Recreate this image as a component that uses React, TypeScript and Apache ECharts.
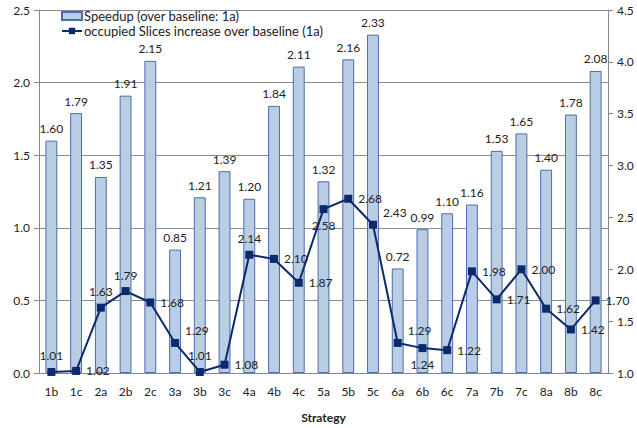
import React, { useEffect, useRef } from "react";
import * as echarts from "echarts";

const categories = ["1b","1c","2a","2b","2c","3a","3b","3c","4a","4b","4c","5a","5b","5c","6a","6b","6c","7a","7b","7c","8a","8b","8c"];
const speedup = [1.60,1.79,1.35,1.91,2.15,0.85,1.21,1.39,1.20,1.84,2.11,1.32,2.16,2.33,0.72,0.99,1.10,1.16,1.53,1.65,1.40,1.78,2.08];
const slices = [1.01,1.02,1.63,1.79,1.68,1.29,1.01,1.08,2.14,2.10,1.87,2.58,2.68,2.43,1.29,1.24,1.22,1.98,1.71,2.00,1.62,1.42,1.70];
const labelPos = ["top","right","top","top","right","topRight","top","right","top","right","right","bottom","right","topRight","topRight","bottom","right","right","right","right","right","right","right"];

const FONT = "Lato";

export default function App() {
  const ref = useRef<HTMLDivElement>(null);
  useEffect(() => {
    const chart = echarts.init(ref.current!, null, { renderer: "svg" });
    const lineData = slices.map((v, i) => {
      const p = labelPos[i];
      let label: any = { position: p };
      if (p === "topRight") label = { position: "right", offset: [0, -12] };
      return { value: v, label };
    });
    chart.setOption({
      animation: false,
      textStyle: { fontFamily: FONT },
      grid: { left: 39, right: 29, top: 10, bottom: 53 },
      legend: {
        orient: "vertical",
        left: 56,
        top: 4,
        itemGap: 1,
        itemWidth: 20,
        itemHeight: 8,
        textStyle: { fontFamily: FONT, fontSize: 13, color: "#222", padding: [0, 0, 0, -3], lineHeight: 14 },
        data: [
          { name: "Speedup (over baseline: 1a)", icon: "rect" },
          { name: "occupied Slices increase over baseline (1a)" },
        ],
      },
      xAxis: {
        type: "category",
        data: categories,
        name: "Strategy",
        nameLocation: "middle",
        nameGap: 38,
        nameTextStyle: { fontFamily: FONT, fontWeight: "bold", fontSize: 12, color: "#222" },
        axisLine: { lineStyle: { color: "#868686" } },
        axisTick: { lineStyle: { color: "#868686" } },
        axisLabel: { fontFamily: FONT, fontSize: 12, color: "#222", margin: 12 },
      },
      yAxis: [
        {
          type: "value",
          min: 0,
          max: 2.5,
          interval: 0.5,
          axisLine: { show: true, lineStyle: { color: "#868686" } },
          axisTick: { show: true, lineStyle: { color: "#868686" }, length: 5 },
          splitLine: { show: true, lineStyle: { color: "#8c8c8c" } },
          axisLabel: { fontFamily: FONT, fontSize: 12, color: "#222", formatter: (v: number) => v.toFixed(1), margin: 9 },
        },
        {
          type: "value",
          min: 1,
          max: 4.5,
          interval: 0.5,
          position: "right",
          axisLine: { show: true, lineStyle: { color: "#868686" } },
          axisTick: { show: true, lineStyle: { color: "#868686" }, length: 5 },
          splitLine: { show: false },
          axisLabel: { fontFamily: FONT, fontSize: 12, color: "#222", formatter: (v: number) => v.toFixed(1), margin: 9 },
        },
      ],
      series: [
        {
          name: "Speedup (over baseline: 1a)",
          type: "bar",
          data: speedup,
          barWidth: "48%",
          itemStyle: { color: "#b9cde5", borderColor: "#4a6ea6", borderWidth: 1 },
          label: {
            show: true,
            position: "top",
            distance: 6,
            fontFamily: FONT,
            fontSize: 12,
            color: "#222",
            formatter: (p: any) => p.value.toFixed(2),
          },
        },
        {
          name: "occupied Slices increase over baseline (1a)",
          type: "line",
          yAxisIndex: 1,
          data: lineData,
          symbol: "rect",
          symbolSize: 8,
          lineStyle: { color: "#0c2a6b", width: 2 },
          itemStyle: { color: "#0c2a6b" },
          label: {
            show: true,
            distance: 6,
            fontFamily: FONT,
            fontSize: 12,
            color: "#222",
            formatter: (p: any) => p.value.toFixed(2),
          },
          z: 5,
        },
      ],
    });
    return () => chart.dispose();
  }, []);
  return <div ref={ref} style={{ position: "absolute", left: 0, top: 0, width: 637, height: 428 }} />;
}
